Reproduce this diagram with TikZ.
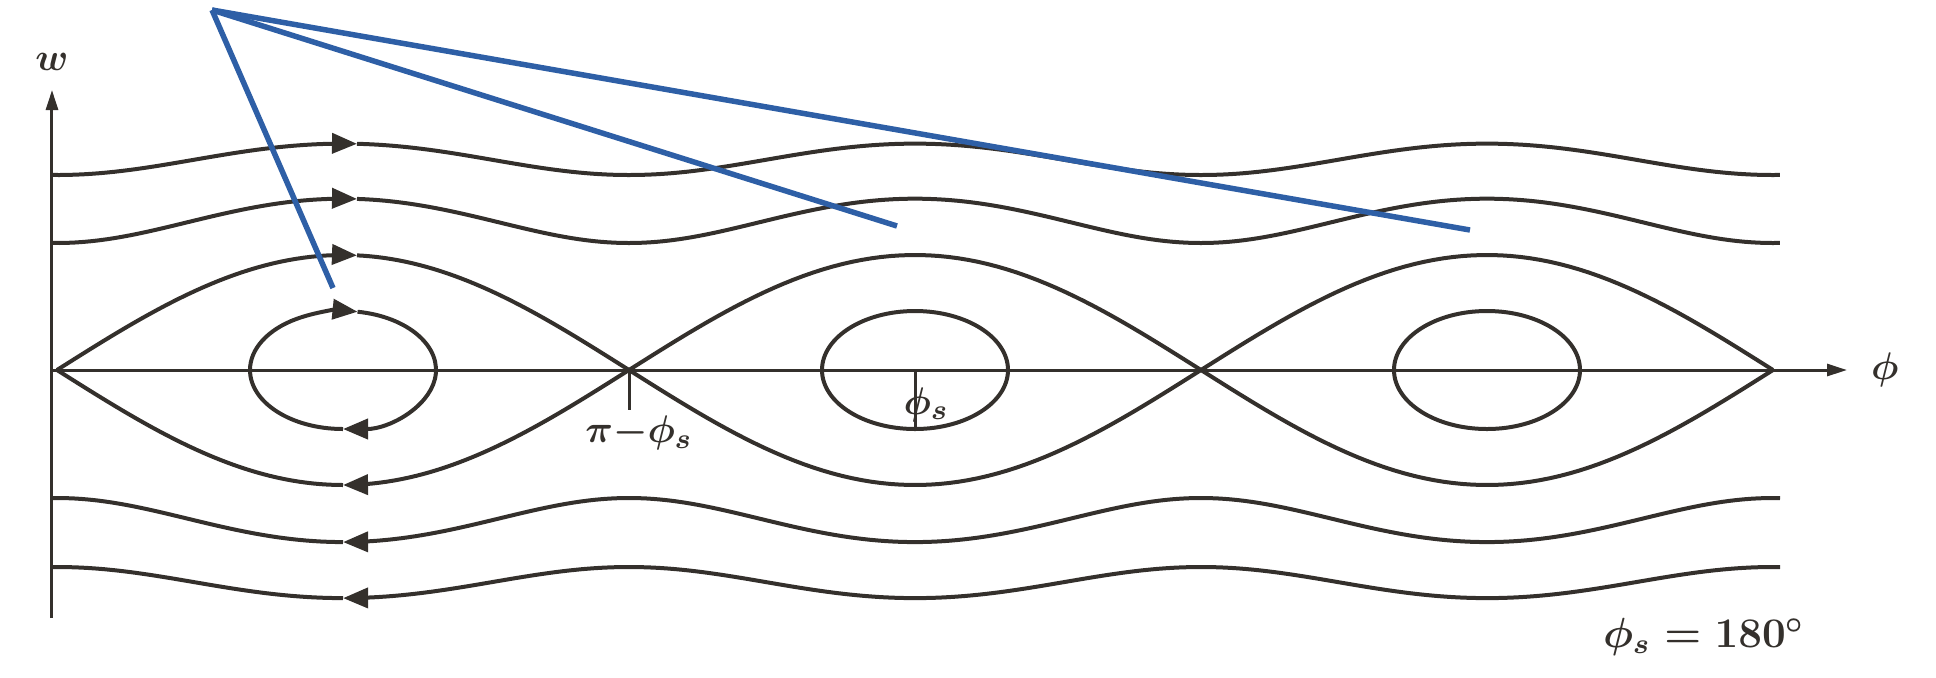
\documentclass[tikz,border=0pt]{standalone}
\usepackage{amsmath}
\usepackage{tikz}
\usetikzlibrary{arrows.meta}
\usetikzlibrary{positioning}
\definecolor{inkgray}{RGB}{52,48,44}
\definecolor{callblue}{RGB}{46,95,166}
\tikzset{
  phase_curve/.style = {draw=inkgray, line width=0.04cm},% trajectoire
  phase_axis/.style = {draw=inkgray, line width=0.03cm,
    -{Triangle[length=0.2cm, width=0.12cm]}},% axe
  flow_tip/.style = {-{Triangle[length=0.25cm, width=0.2cm]}},% sens du mouvement
  tick_line/.style = {draw=inkgray, line width=0.03cm},% repere
  call_line/.style = {draw=callblue, line width=0.055cm},% trait bleu
  axis_label/.style = {font=\fontsize{11}{13}\selectfont\boldmath, text=inkgray,
    inner sep=1pt},
  declare function = {
    sepw(\t) = 1.15*abs(sin(180*(\t-0.05)/5.72));
    orbw(\t,\b) = sqrt(\b*\b + 1.3225*sin(180*(\t-0.05)/5.72)*sin(180*(\t-0.05)/5.72));
  }
}
\begin{document}
\begin{tikzpicture}
  \useasboundingbox (-0.52,-3.07) rectangle (18.84,3.70);
  % axes
  \coordinate (origin) at (0,0);
  \coordinate (w_start) at (0,-2.48);
  \coordinate (w_end) at (0,2.80);
  \coordinate (phi_end) at (17.95,0);
  \draw[phase_axis] (w_start) -- (w_end);
  \draw[phase_axis] (origin) -- (phi_end);
  \node[axis_label] (w_label) at (0,3.08) {$w$};
  \node[axis_label, right=0.2cm of phi_end] (phi_label) {$\phi$};
  % trajectoires ouvertes
  \foreach \b in {1.95,1.27}{
    \draw[phase_curve, flow_tip] plot[domain=0:3.05, samples=40] (\x,{orbw(\x,\b)});
    \draw[phase_curve] plot[domain=3.05:17.28, samples=200] (\x,{orbw(\x,\b)});
  }
  \foreach \b in {1.28,1.97}{
    \draw[phase_curve, flow_tip] plot[domain=17.28:2.91, samples=200] (\x,{-orbw(\x,\b)});
    \draw[phase_curve] plot[domain=2.91:0, samples=40] (\x,{-orbw(\x,\b)});
  }
  % separatrice
  \draw[phase_curve, flow_tip] plot[domain=0.05:3.05, samples=40] (\x,{sepw(\x)});
  \draw[phase_curve] plot[domain=3.05:5.77, samples=40] (\x,{sepw(\x)});
  \draw[phase_curve, flow_tip] plot[domain=5.77:2.91, samples=40] (\x,{-sepw(\x)});
  \draw[phase_curve] plot[domain=2.91:0.05, samples=40] (\x,{-sepw(\x)});
  \foreach \a/\c in {5.77/11.49, 11.49/17.21}{
    \draw[phase_curve] plot[domain=\a:\c, samples=60] (\x,{sepw(\x)});
    \draw[phase_curve] plot[domain=\a:\c, samples=60] (\x,{-sepw(\x)});
  }
  % ilots
  \coordinate (isl_a) at (2.91,0);
  \coordinate (isl_b) at (8.63,0);
  \coordinate (isl_c) at (14.35,0);
  \draw[phase_curve, flow_tip] (isl_a) ++(180:0.93 and 0.59)
    arc[start angle=180, end angle=81, x radius=0.93, y radius=0.59];
  \draw[phase_curve, flow_tip] (isl_a) ++(81:0.93 and 0.59)
    arc[start angle=81, end angle=-90, x radius=0.93, y radius=0.59];
  \draw[phase_curve] (isl_a) ++(-90:0.93 and 0.59)
    arc[start angle=-90, end angle=-180, x radius=0.93, y radius=0.59];
  \draw[phase_curve] (isl_b) ellipse[x radius=0.93, y radius=0.59];
  \draw[phase_curve] (isl_c) ellipse[x radius=0.93, y radius=0.59];
  % reperes
  \coordinate (node_b) at (5.77,0);
  \coordinate (tick_b) at (5.77,-0.40);
  \coordinate (tick_s) at (8.63,-0.58);
  \draw[tick_line] (node_b) -- (tick_b);
  \draw[tick_line] (isl_b) -- (tick_s);
  \node[axis_label, below=0.02cm of tick_b, xshift=0.1cm] (pi_label) {$\pi{-}\phi_s$};
  \node[axis_label, inner sep=0pt, anchor=base west] (phis_label) at (8.51,-0.44) {$\phi_s$};
  \node[axis_label, font=\fontsize{12}{14}\selectfont\boldmath] (phis_value) at (16.52,-2.67) {$\phi_s = 180^\circ$};
  % traits bleus
  \coordinate (call_src) at (1.60,3.60);
  \coordinate (call_a) at (2.81,0.82);
  \coordinate (call_b) at (8.45,1.44);
  \coordinate (call_c) at (14.18,1.40);
  \foreach \e in {call_a,call_b,call_c}
    \draw[call_line] (call_src) -- (\e);
\end{tikzpicture}
\end{document}
